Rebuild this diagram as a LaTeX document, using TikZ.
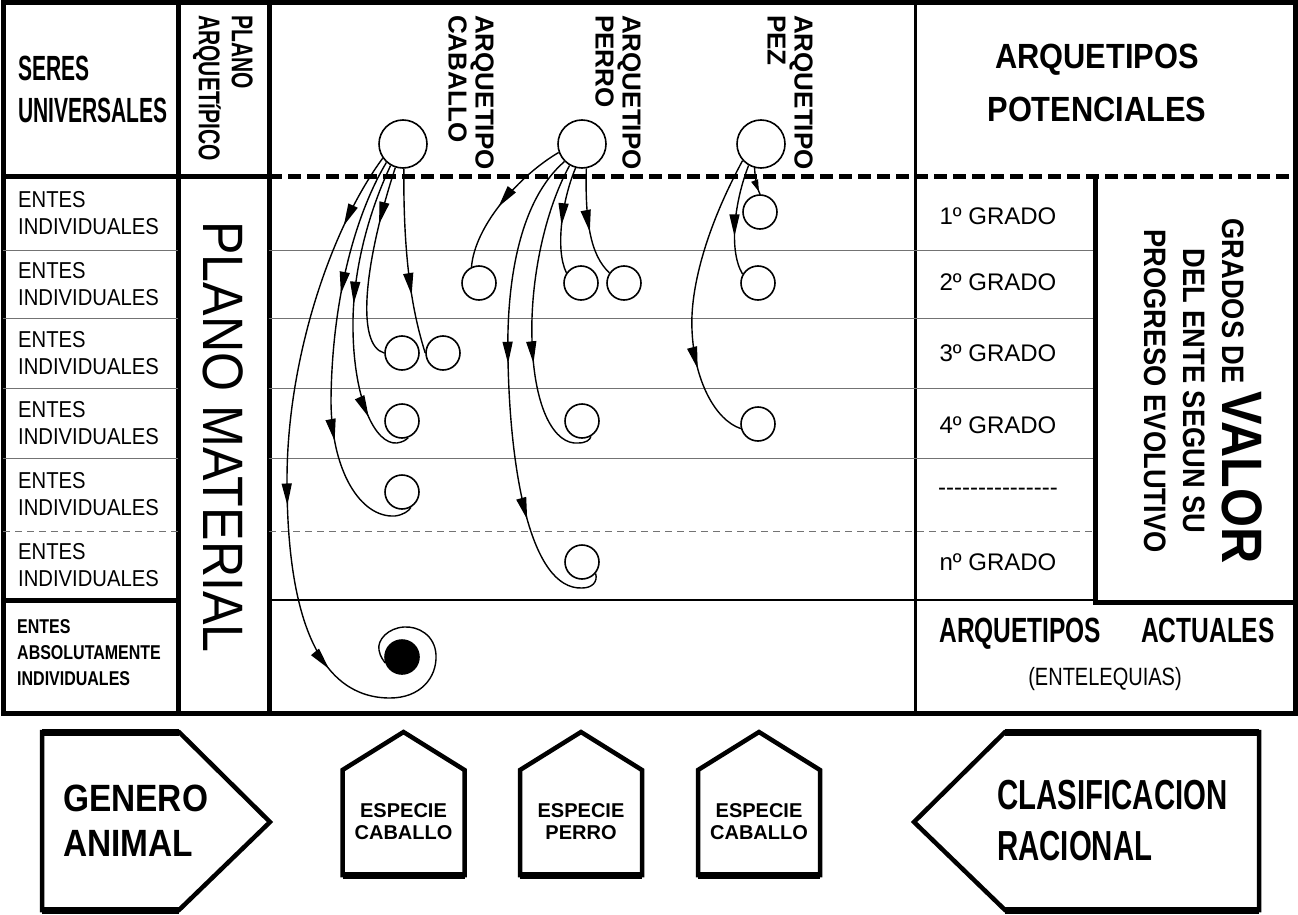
\documentclass[tikz,border=0pt]{standalone}
\usepackage{fontspec}
\setmainfont{Liberation Sans}
\newfontfamily\condsix[FakeStretch=0.6]{Liberation Sans}
\newfontfamily\condseven[FakeStretch=0.7]{Liberation Sans}
\newfontfamily\condeight[FakeStretch=0.8]{Liberation Sans}
\newfontfamily\condnine[FakeStretch=0.88]{Liberation Sans}
\usepackage{tikz}
\usetikzlibrary{arrows.meta}
\usetikzlibrary{decorations.markings}

\begin{document}
\begin{tikzpicture}[x=1pt,y=-1pt,
  arch/.style={circle,draw,line width=1.6pt,minimum size=48pt,inner sep=0pt},
  ente/.style={circle,draw,line width=1.6pt,minimum size=34pt,inner sep=0pt},
  link/.style={line width=1.4pt},
  arrowat/.style={postaction={decorate,decoration={markings,mark=at position #1 with {\arrow{Triangle[length=22pt,width=10pt]}}}}},
  smallarrowat/.style={postaction={decorate,decoration={markings,mark=at position #1 with {\arrow{Triangle[length=12pt,width=7pt]}}}}},
  heavy/.style={line width=5pt},
  fine/.style={line width=1pt,black!55},
  shapeline/.style={line width=4.5pt,line join=miter}]
\fill[white] (0,0) rectangle (1298,915);
\useasboundingbox (0,0) rectangle (1298,915);
% table
\draw[heavy] (3,3) rectangle (1295,713);
\draw[heavy] (178,3) -- (178,713);
\draw[heavy] (269,3) -- (269,713);
\draw[line width=3pt] (915,3) -- (915,713);
\draw[heavy] (3,176) -- (269,176);
\draw[heavy] [dash pattern=on 13pt off 6pt] (269,176) -- (1295,176);	% limite arquetipico
\foreach \y in {250,318,388,458} {\draw[fine] (3,\y) -- (178,\y); \draw[fine] (269,\y) -- (1095,\y);}
\draw[fine] [dash pattern=on 7pt off 5pt] (3,531) -- (178,531) (269,531) -- (1095,531);
\draw[heavy] (3,600) -- (178,600);
\draw[line width=2.5pt] (269,600) -- (915,600);
\draw[line width=1.5pt] (915,600) -- (1095,600);
\draw[heavy] (1095,176) -- (1095,602) -- (1295,602);
% textos de la tabla
\node[anchor=west,align=left,inner sep=0pt,font=\condsix\bfseries\fontsize{35}{42}\selectfont] (seres) at (18,89) {SERES\\UNIVERSALES};
\node[rotate=-90,anchor=north west,align=left,inner sep=0pt,font=\condseven\bfseries\fontsize{30}{33}\selectfont] (planoarq) at (253,15) {PLANO\\ARQUETíPICO};
\node[rotate=-90,inner sep=0pt,font=\condnine\fontsize{57}{60}\selectfont] (material) at (223,437) {PLANO MATERIAL};
\foreach \y in {213,284,353,423,494,565} \node[anchor=west,align=left,inner sep=0pt,font=\condnine\fontsize{23}{27}\selectfont] (entes\y) at (18,\y) {ENTES\\INDIVIDUALES};
\node[anchor=west,align=left,inner sep=0pt,font=\condeight\bfseries\fontsize{20}{26}\selectfont] (absolutos) at (17,653) {ENTES\\ABSOLUTAMENTE\\INDIVIDUALES};
\node[rotate=-90,anchor=north west,align=left,inner sep=0pt,font=\bfseries\fontsize{26}{27}\selectfont] (labcab) at (494,15) {ARQUETIPO\\CABALLO};
\node[rotate=-90,anchor=north west,align=left,inner sep=0pt,font=\bfseries\fontsize{26}{27}\selectfont] (labper) at (641,15) {ARQUETIPO\\PERRO};
\node[rotate=-90,anchor=north west,align=left,inner sep=0pt,font=\bfseries\fontsize{26}{27}\selectfont] (labpez) at (813,15) {ARQUETIPO\\PEZ};
\node[align=center,inner sep=0pt,font=\condnine\bfseries\fontsize{35}{53}\selectfont] (potenciales) at (1097,83) {ARQUETIPOS\\POTENCIALES};
\foreach \y/\g in {216/1º GRADO, 282/2º GRADO, 353/3º GRADO, 425/4º GRADO, 492/{{-}{-}{-}{-}{-}{-}{-}{-}{-}{-}{-}{-}{-}{-}{-}}, 562/nº GRADO} \node[font=\fontsize{24}{28}\selectfont] (grado\y) at (998,\y) {\g};
\node[rotate=-90,align=center,inner sep=0pt,font=\condnine\bfseries\fontsize{31}{39}\selectfont] (valor) at (1203,391) {GRADOS DE {\fontsize{57}{39}\selectfont VALOR}\\DEL ENTE SEGUN SU\\PROGRESO EVOLUTIVO};
\node[inner sep=0pt,font=\condseven\bfseries\fontsize{35}{40}\selectfont] (actuales) at (1107,634) {ARQUETIPOS\hspace{40pt}ACTUALES};
\node[inner sep=0pt,font=\condeight\fontsize{25}{28}\selectfont] (entelequias) at (1105,679) {(ENTELEQUIAS)};
% arquetipos y entes
\node[arch] (archcab) at (403,144) {};
\node[arch] (archper) at (582,144) {};
\node[arch] (archpez) at (761,144) {};
\node[ente] (cabA) at (402,353) {};
\node[ente] (cabB) at (443,353) {};
\node[ente] (cabC) at (402,421) {};
\node[ente] (cabD) at (402,492) {};
\node[ente,fill=black] (cabfill) at (402,657) {};
\node[ente] (perA) at (479,283) {};
\node[ente] (perB) at (581,283) {};
\node[ente] (perC) at (624,283) {};
\node[ente] (perD) at (582,421) {};
\node[ente] (perE) at (582,562) {};
\node[ente] (pezA) at (760,212) {};
\node[ente] (pezB) at (758,283) {};
\node[ente] (pezC) at (758,424) {};
% caballo
\draw[link,arrowat=0.1,arrowat=0.47,arrowat=0.69] (archcab.215) .. controls (330,230) and (287,360) .. (287,480) .. controls (287,620) and (320,698) .. (390,698) .. controls (420,698) and (437,678) .. (436,655) .. controls (435,635) and (418,626) .. (404,627) .. controls (388,628) and (377,640) .. (379,650) .. controls (380,657) and (384,661) .. (cabfill.200);
\draw[link,arrowat=0.34,arrowat=0.7] (archcab.228) .. controls (355,215) and (332,300) .. (331,400) .. controls (331,470) and (360,518) .. (395,516) .. controls (403,515) and (409,511) .. (cabD.300);
\draw[link,arrowat=0.46,arrowat=0.83] (archcab.240) .. controls (365,220) and (352,280) .. (353,330) .. controls (354,400) and (375,445) .. (397,443) .. controls (403,442) and (406,440) .. (cabC.290);
\draw[link,arrowat=0.3] (archcab.252) .. controls (365,260) and (355,345) .. (cabA.west);
\draw[link,arrowat=0.68] (archcab.272) .. controls (403,270) and (415,320) .. (cabB.west);
% perro
\draw[link,arrowat=0.55] (archper.200) .. controls (520,175) and (475,225) .. (perA.115);
\draw[link,arrowat=0.44,arrowat=0.76] (archper.225) .. controls (520,200) and (506,280) .. (508,360) .. controls (510,470) and (530,590) .. (582,588) .. controls (592,588) and (598,582) .. (perE.320);
\draw[link,arrowat=0.64] (archper.240) .. controls (545,210) and (530,280) .. (532,340) .. controls (534,410) and (555,445) .. (578,443) .. controls (586,443) and (590,440) .. (perD.300);
\draw[link,arrowat=0.55] (archper.255) .. controls (562,200) and (555,250) .. (perB.145);
\draw[link,arrowat=0.58] (archper.280) .. controls (585,220) and (590,255) .. (perC.145);
% pez
\draw[link,smallarrowat=0.9] (archpez.255) .. controls (755,178) and (757,188) .. (pezA.north);
\draw[link,arrowat=0.65] (archpez.240) .. controls (735,200) and (728,250) .. (pezB.150);
\draw[link,arrowat=0.74] (archpez.222) .. controls (705,230) and (690,290) .. (692,330) .. controls (694,380) and (715,420) .. (pezC.195);
% clasificacion
\draw[shapeline] (42,732) -- (179,732) -- (270,822) -- (179,910) -- (42,910) -- cycle;
\draw[line width=7pt] (42,732) -- (179,732) (42,910) -- (179,910);
\node[anchor=west,align=left,inner sep=0pt,font=\condnine\bfseries\fontsize{38}{45}\selectfont] (genero) at (63,821) {GENERO\\ANIMAL};
\foreach \cx/\txt [count=\i] in {403.5/CABALLO, 581/PERRO, 759/CABALLO} {
  \draw[shapeline] (\cx-61,875) -- (\cx-61,770) -- (\cx,732) -- (\cx+61,770) -- (\cx+61,875) -- cycle;
  \draw[line width=7pt] (\cx-61,875) -- (\cx+61,875);
  \node[align=center,inner sep=0pt,font=\bfseries\fontsize{20}{22}\selectfont] (especie\i) at (\cx,822) {ESPECIE\\\txt};
}
\draw[shapeline] (1259,732) -- (1005,732) -- (914,822) -- (1005,910) -- (1259,910) -- cycle;
\draw[line width=7pt] (1005,732) -- (1259,732) (1005,910) -- (1259,910);
\node[anchor=west,align=left,inner sep=0pt,font=\condseven\bfseries\fontsize{42}{51}\selectfont] (clasificacion) at (997,821) {CLASIFICACION\\RACIONAL};
\end{tikzpicture}
\end{document}
